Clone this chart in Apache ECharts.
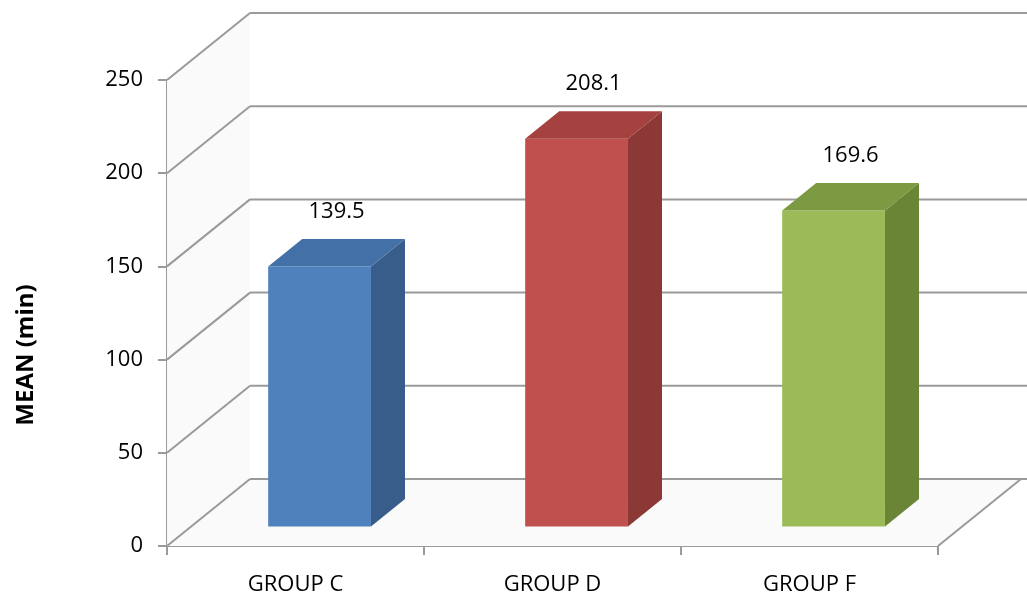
<!DOCTYPE html>
<html>
<head>
<meta charset="utf-8">
<script src="https://cdn.jsdelivr.net/npm/echarts@6/dist/echarts.min.js"></script>
<style>
  html, body { margin: 0; padding: 0; background: #fff; }
  #main { width: 1027px; height: 604px; }
</style>
</head>
<body>
<div id="main"></div>
<script>
// values
var groups = ['GROUP C', 'GROUP D', 'GROUP F'];
var means = [139.5, 208.1, 169.6];
var yTicks = [0, 50, 100, 150, 200, 250];

// look of the fake 3d
var frontColors = ['#4f81bd', '#c0504d', '#9bbb59'];
var sideColors = ['#385d8a', '#8c3836', '#6b8537'];
var topColors = ['#4470a8', '#a5413e', '#7b9a42'];
var depthX = 83, depthY = -67;   // front plane -> back wall
var barT0 = 0.29, barT1 = 0.70;  // bar sits between these depths
var lineColor = '#9a9a9a';
var font = 'Open Sans';

var chart = echarts.init(document.getElementById('main'));

function leftEdge(api, v) {
  var p = api.coord([0, v]);
  return [p[0] - api.size([1, 0])[0] / 2, p[1]];
}
function rightEdge(api, v) {
  var p = api.coord([groups.length - 1, v]);
  return [p[0] + api.size([1, 0])[0] / 2, p[1]];
}
function seg(a, b) {
  return {
    type: 'line',
    shape: {x1: a[0], y1: a[1], x2: b[0], y2: b[1]},
    style: {stroke: lineColor, lineWidth: 2}
  };
}

// side wall, floor and back wall grid lines
function renderWall(params, api) {
  var v = api.value(1);
  var l = leftEdge(api, v);
  var bl = [l[0] + depthX, l[1] + depthY];
  var children = [];
  if (params.dataIndex === 0) {
    var r = rightEdge(api, v);
    var br = [r[0] + depthX, r[1] + depthY];
    var lt = leftEdge(api, yTicks[yTicks.length - 1]);
    var blt = [lt[0] + depthX, lt[1] + depthY];
    children.push({type: 'polygon', shape: {points: [l, bl, blt, lt]}, style: {fill: '#fafafa'}});
    children.push({type: 'polygon', shape: {points: [l, r, br, bl]}, style: {fill: '#fafafa'}});
    children.push(seg(r, br));
  }
  children.push(seg(l, bl));
  children.push(seg(bl, [1027, bl[1]]));
  return {type: 'group', children: children};
}

function renderBar(params, api) {
  var i = api.value(0);
  var val = api.value(1);
  var top = api.coord([i, val]);
  var base = api.coord([i, 0]);
  var w = api.size([1, 0])[0] * 0.4;
  var x0 = top[0] - w / 2 + depthX * barT0;
  var x1 = x0 + w;
  var yTop = top[1] + depthY * barT0;
  var yBot = base[1] + depthY * barT0;
  var dx = depthX * (barT1 - barT0);
  var dy = depthY * (barT1 - barT0);
  return {
    type: 'group',
    children: [
      {type: 'rect', shape: {x: x0, y: yTop, width: w, height: yBot - yTop}, style: {fill: frontColors[i]}},
      {type: 'polygon', shape: {points: [[x1, yTop], [x1 + dx, yTop + dy], [x1 + dx, yBot + dy], [x1, yBot]]},
        style: {fill: sideColors[i]}},
      {type: 'polygon', shape: {points: [[x0, yTop], [x0 + dx, yTop + dy], [x1 + dx, yTop + dy], [x1, yTop]]},
        style: {fill: topColors[i]}},
      {type: 'text', x: x0 + w / 2 + dx / 2, y: yTop + dy - 27,
        style: {text: val.toFixed(1), fill: '#000', font: '22px "Open Sans"', align: 'center', verticalAlign: 'middle'}}
    ]
  };
}

var option = {
  animation: false,
  backgroundColor: '#fff',
  grid: {left: 167, right: 89, top: 80, bottom: 58},
  xAxis: {
    type: 'category',
    data: groups,
    axisLine: {lineStyle: {color: lineColor, width: 2}},
    axisTick: {show: true, length: 9, lineStyle: {color: lineColor, width: 2}},
    axisLabel: {fontSize: 22, color: '#000', fontFamily: font, margin: 28}
  },
  yAxis: {
    type: 'value',
    min: 0,
    max: 250,
    interval: 50,
    axisLine: {show: true, lineStyle: {color: lineColor, width: 2}},
    axisTick: {show: true, length: 9, lineStyle: {color: lineColor, width: 2}},
    axisLabel: {fontSize: 22, color: '#000', fontFamily: font, margin: 24},
    splitLine: {show: false}
  },
  graphic: [{
    type: 'text',
    x: 26,
    y: 355,
    rotation: Math.PI / 2,
    style: {text: 'MEAN (min)', fill: '#000', font: 'bold 24px "Open Sans"', align: 'center', verticalAlign: 'middle'}
  }],
  series: [
    {
      type: 'custom',
      silent: true,
      z: 1,
      renderItem: renderWall,
      data: yTicks.map(function (v) { return [0, v]; })
    },
    {
      type: 'custom',
      silent: true,
      z: 3,
      renderItem: renderBar,
      data: means.map(function (v, i) { return [i, v]; })
    }
  ]
};
chart.setOption(option);
</script>
</body>
</html>
